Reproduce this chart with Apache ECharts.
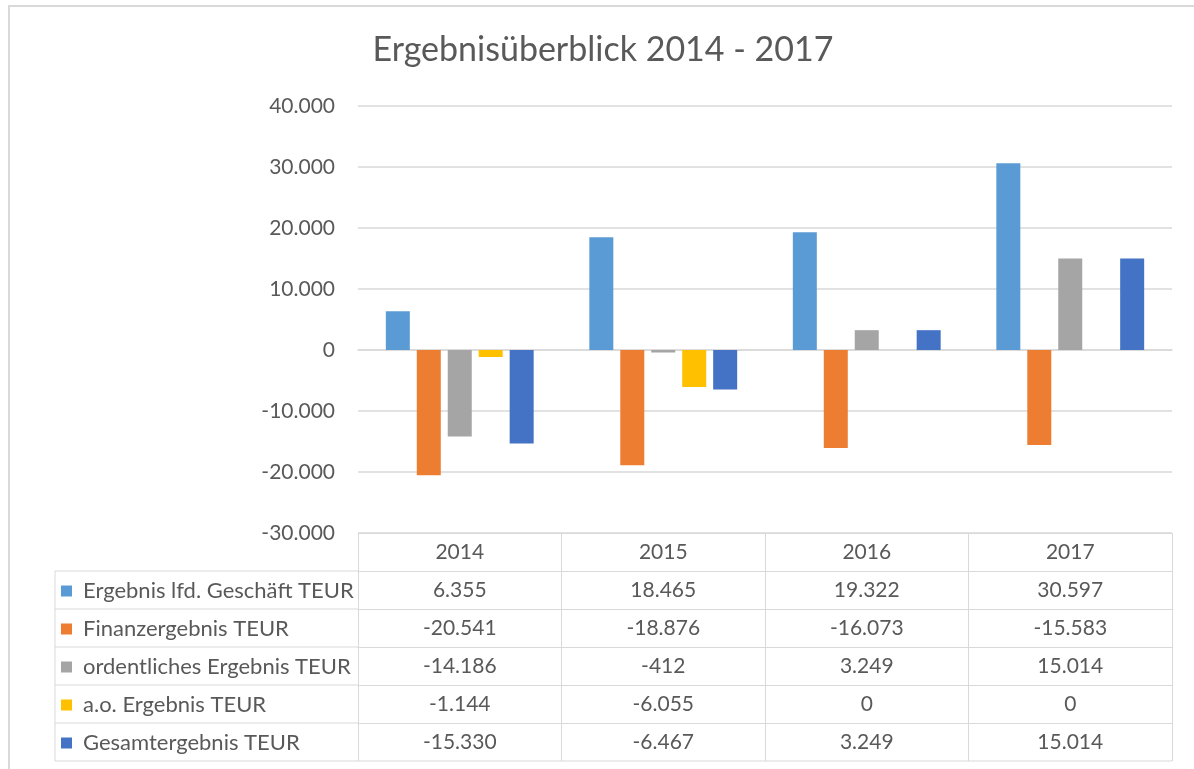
<!DOCTYPE html>
<html>
<head>
<meta charset="utf-8">
<script src="https://cdn.jsdelivr.net/npm/echarts@6/dist/echarts.min.js"></script>
<style>
html, body { margin: 0; padding: 0; background: #fff; }
#main { width: 1194px; height: 769px; }
</style>
</head>
<body>
<div id="main"></div>
<script>
// Daten
var years = ['2014', '2015', '2016', '2017'];
var seriesNames = [
    'Ergebnis lfd. Geschäft TEUR',
    'Finanzergebnis TEUR',
    'ordentliches Ergebnis TEUR',
    'a.o. Ergebnis TEUR',
    'Gesamtergebnis TEUR'
];
var lfdGeschaeft = [6355, 18465, 19322, 30597];
var finanzergebnis = [-20541, -18876, -16073, -15583];
var ordentlichesErgebnis = [-14186, -412, 3249, 15014];
var aoErgebnis = [-1144, -6055, 0, 0];
var gesamtergebnis = [-15330, -6467, 3249, 15014];
var yMin = -30000, yMax = 40000, yStep = 10000;

var rows = [lfdGeschaeft, finanzergebnis, ordentlichesErgebnis, aoErgebnis, gesamtergebnis];
var colors = ['#5B9BD5', '#ED7D31', '#A5A5A5', '#FFC000', '#4472C4'];

var textColor = '#595959';
var lineColor = '#D9D9D9';
var font = 'Lato, "Open Sans", sans-serif';
var fs = 21;

// Layout
var gridLeft = 358, gridRight = 22, gridTop = 106, tableTop = 533;
var rowH = 38, tableLeft = 55;

// deutsche Tausenderpunkte
function fmt(v) {
    var s = Math.abs(v).toString().replace(/\B(?=(\d{3})+(?!\d))/g, '.');
    return (v < 0 ? '-' : '') + s;
}

var myChart = echarts.init(document.getElementById('main'));

var xAxes = [{
    type: 'category',
    data: years,
    axisLine: { onZero: true, lineStyle: { color: lineColor, width: 1.5 } },
    axisTick: { show: false },
    axisLabel: { show: false }
}];

// Kopfzeile der Tabelle (Jahre)
xAxes.push({
    type: 'category',
    data: years,
    position: 'bottom',
    offset: 0,
    axisLine: { onZero: false, lineStyle: { color: lineColor } },
    axisTick: { show: true, interval: 0, length: rowH, lineStyle: { color: lineColor } },
    axisLabel: { interval: 0, margin: 9, fontSize: fs, lineHeight: 20, color: textColor, fontFamily: font }
});

// Wertezeilen
rows.forEach(function (row, k) {
    xAxes.push({
        type: 'category',
        data: years,
        position: 'bottom',
        offset: rowH * (k + 1),
        axisLine: { onZero: false, lineStyle: { color: lineColor } },
        axisTick: { show: true, interval: 0, length: rowH, lineStyle: { color: lineColor } },
        axisLabel: {
            interval: 0, margin: 9, fontSize: fs, lineHeight: 20, color: textColor, fontFamily: font,
            formatter: function (v, i) { return fmt(row[i]); }
        }
    });
});

var series = rows.map(function (row, k) {
    return {
        name: seriesNames[k],
        type: 'bar',
        xAxisIndex: 0,
        data: row,
        barWidth: 24,
        barGap: '29%',
        itemStyle: { color: colors[k] }
    };
});

// Rahmen, Titel und Linien der Legendenspalte
var tableBottom = tableTop + rowH * 6;
var graphics = [{
    type: 'rect',
    shape: { x: 9, y: 6, width: 1300, height: 900 },
    style: { fill: 'none', stroke: lineColor, lineWidth: 2 },
    silent: true
}, {
    type: 'text',
    x: 603,
    y: 50,
    style: {
        text: 'Ergebnisüberblick 2014 - 2017',
        fill: textColor,
        fontSize: 34,
        fontFamily: font,
        align: 'center',
        verticalAlign: 'middle'
    },
    silent: true
}];
for (var r = 1; r <= 6; r++) {
    var yy = tableTop + rowH * r;
    graphics.push({
        type: 'line',
        shape: { x1: tableLeft, y1: yy, x2: r === 6 ? 1194 - gridRight : gridLeft, y2: yy },
        style: { stroke: lineColor, lineWidth: 1 },
        silent: true
    });
}
graphics.push({
    type: 'line',
    shape: { x1: tableLeft, y1: tableTop + rowH, x2: tableLeft, y2: tableBottom },
    style: { stroke: lineColor, lineWidth: 1 },
    silent: true
});

var option = {
    animation: false,
    legend: {
        data: seriesNames,
        orient: 'vertical',
        left: 56,
        top: tableTop + rowH + 4,
        itemWidth: 11,
        itemHeight: 11,
        itemGap: 16,
        icon: 'rect',
        selectedMode: false,
        textStyle: { fontSize: 22, lineHeight: 21, color: textColor, fontFamily: font, padding: [0, 0, 0, 6] }
    },
    grid: { left: gridLeft, right: gridRight, top: gridTop, bottom: 769 - tableTop, containLabel: false },
    xAxis: xAxes,
    yAxis: {
        type: 'value',
        min: yMin,
        max: yMax,
        interval: yStep,
        axisLine: { show: false },
        axisTick: { show: false },
        axisLabel: { margin: 23, fontSize: fs, color: textColor, fontFamily: font, formatter: fmt },
        splitLine: { lineStyle: { color: lineColor, width: 1.5 } }
    },
    series: series,
    graphic: graphics
};

myChart.setOption(option);
</script>
</body>
</html>
